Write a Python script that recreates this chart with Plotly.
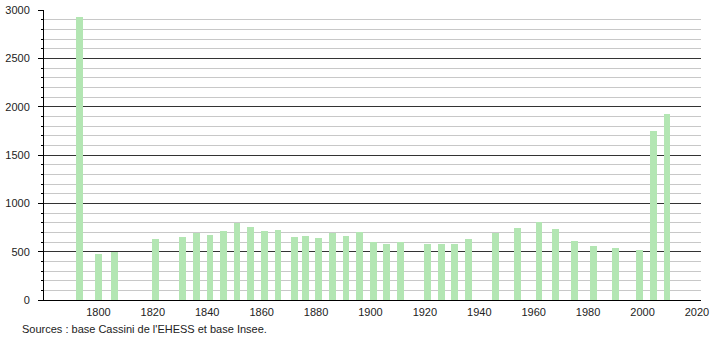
import plotly.graph_objects as go

years = [1793, 1800, 1806, 1821, 1831, 1836, 1841, 1846, 1851, 1856, 1861, 1866,
         1872, 1876, 1881, 1886, 1891, 1896, 1901, 1906, 1911, 1921, 1926, 1931,
         1936, 1946, 1954, 1962, 1968, 1975, 1982, 1990, 1999, 2004, 2009]
population = [2925, 478, 498, 633, 651, 689, 675, 713, 796, 755, 716, 727,
              651, 665, 640, 692, 665, 706, 602, 581, 602, 581, 581, 581,
              633, 692, 748, 810, 737, 613, 561, 540, 519, 1745, 1921]
x_ticks = [1800, 1820, 1840, 1860, 1880, 1900, 1920, 1940, 1960, 1980, 2000, 2020]
y_ticks = [0, 500, 1000, 1500, 2000, 2500, 3000]
source_text = "Sources : base Cassini de l'EHESS et base Insee."

FONT = "Liberation Sans, Arial, sans-serif"

fig = go.Figure()
fig.add_trace(go.Bar(
    x=years, y=population, width=2.45,
    marker=dict(color="#b3e6b3", line=dict(width=0)),
    hoverinfo="x+y",
))

fig.update_layout(
    width=710, height=340,
    margin=dict(l=44, r=9, t=10, b=40, autoexpand=False),
    paper_bgcolor="white", plot_bgcolor="white",
    showlegend=False,
    font=dict(family=FONT, size=11, color="#222"),
    bargap=0,
)
fig.update_xaxes(
    range=[1780, 2021.5], automargin=False,
    tickmode="array", tickvals=x_ticks, ticktext=[str(t) for t in x_ticks],
    showgrid=False, zeroline=False,
    showline=True, linecolor="black", linewidth=1,
    ticks="", ticklabelstandoff=2,
    tickfont=dict(family=FONT, size=11, color="#222"),
)
fig.update_yaxes(
    range=[0, 3000], automargin=False,
    tickmode="array", tickvals=y_ticks, ticktext=[str(t) for t in y_ticks],
    showgrid=True, gridcolor="#333", gridwidth=1,
    zeroline=False,
    showline=True, linecolor="black", linewidth=1,
    ticks="outside", ticklen=5, tickcolor="black",
    ticklabelstandoff=6,
    minor=dict(dtick=100, tick0=0, showgrid=True, gridcolor="#c8c8c8", gridwidth=1,
               ticks="outside", ticklen=2, tickcolor="black"),
    tickfont=dict(family=FONT, size=11, color="#222"),
)
fig.add_annotation(
    text=source_text, xref="paper", yref="paper",
    x=-44/657, y=-29/290, xanchor="left", yanchor="middle",
    xshift=20, showarrow=False,
    font=dict(family=FONT, size=11, color="#222"),
)

fig.write_html("out.html")
